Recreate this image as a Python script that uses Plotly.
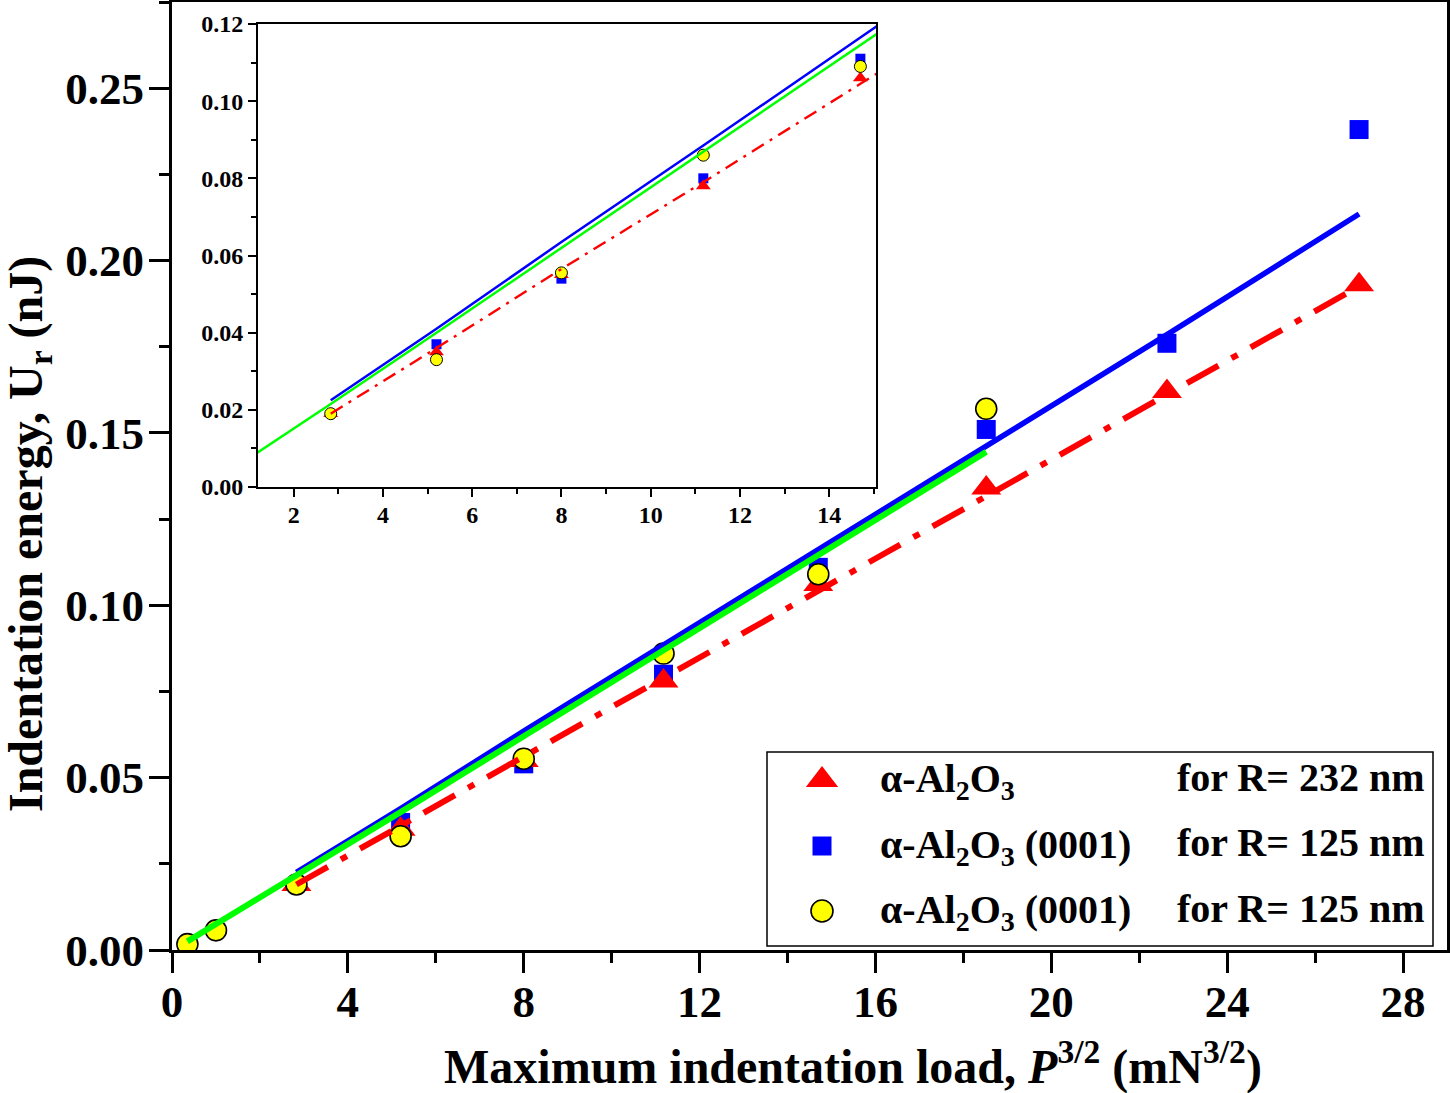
import plotly.graph_objects as go

# ---------------- data ----------------
# x values are P^{3/2} (mN^{3/2}), y values are indentation energy U_r (nJ)
x_tri = [2.83, 5.20, 8.00, 11.18, 14.70, 18.52, 22.63, 27.00]
y_tri = [0.019, 0.035, 0.055, 0.078, 0.106, 0.134, 0.162, 0.193]

x_sq = [5.20, 8.00, 11.18, 14.70, 18.52, 22.63, 27.00]
y_sq = [0.037, 0.054, 0.080, 0.111, 0.151, 0.176, 0.238]

x_circ = [0.35, 1.00, 2.83, 5.20, 8.00, 11.18, 14.70, 18.52]
y_circ = [0.0017, 0.0057, 0.019, 0.033, 0.0555, 0.086, 0.109, 0.157]

fit_red_x = [2.83, 5.20, 8.00, 11.18, 14.70, 18.52, 22.63, 27.00]
fit_red_y = [0.019, 0.036, 0.0565, 0.079, 0.1045, 0.132, 0.1615, 0.1925]

fit_blue_x = [2.83, 5.20, 8.00, 11.18, 14.70, 18.52, 22.63, 27.00]
fit_blue_y = [0.0225, 0.041, 0.0635, 0.0885, 0.1165, 0.1465, 0.1785, 0.2135]

fit_green_x = [0.35, 1.00, 2.83, 5.20, 8.00, 11.18, 14.70, 18.52]
fit_green_y = [0.0025, 0.0075, 0.0215, 0.040, 0.062, 0.087, 0.1145, 0.1445]

legend_names = ["α-Al<sub>2</sub>O<sub>3</sub>",
                "α-Al<sub>2</sub>O<sub>3</sub> (0001)",
                "α-Al<sub>2</sub>O<sub>3</sub> (0001)"]
legend_radius = ["for R= 232 nm", "for R= 125 nm", "for R= 125 nm"]

main_xticks = [0, 4, 8, 12, 16, 20, 24, 28]
inset_xticks = [2, 4, 6, 8, 10, 12, 14]

# ---------------- styling ----------------
FONT = "Liberation Serif"
RED, BLUE, GREEN, YELLOW = "#ff0000", "#0000ff", "#00ff00", "#ffff00"

W, H = 1450, 1093
L, R, T, B = 172, 3, 2, 143
PW, PH = W - L - R, H - T - B


def px(xp):
    return (xp - L) / PW


def py(yp):
    return (H - B - yp) / PH


fig = go.Figure()


def add_series(xa, ya, big):
    # markers first (lines are drawn on top of them in the reference)
    fig.add_trace(go.Scatter(x=x_sq, y=y_sq, mode="markers", xaxis=xa, yaxis=ya,
                             marker=dict(symbol="square", size=19 if big else 10, color=BLUE,
                                         line=dict(width=0)), showlegend=False))
    fig.add_trace(go.Scatter(x=x_tri, y=y_tri, mode="markers", xaxis=xa, yaxis=ya,
                             marker=dict(symbol="triangle-up", size=26 if big else 13, color=RED,
                                         line=dict(width=0)), showlegend=False))
    fig.add_trace(go.Scatter(x=x_circ, y=y_circ, mode="markers", xaxis=xa, yaxis=ya,
                             marker=dict(symbol="circle", size=21 if big else 12, color=YELLOW,
                                         line=dict(width=1.6 if big else 1.0, color="black")),
                             showlegend=False))
    fig.add_trace(go.Scatter(x=fit_red_x, y=fit_red_y, mode="lines", xaxis=xa, yaxis=ya,
                             line=dict(color=RED, width=6 if big else 2.4,
                                       dash="36px,15px,7px,15px" if big else "14px,7px,3px,7px"),
                             showlegend=False))
    fig.add_trace(go.Scatter(x=fit_blue_x, y=fit_blue_y, mode="lines", xaxis=xa, yaxis=ya,
                             line=dict(color=BLUE, width=5.5 if big else 2.5), showlegend=False))
    fig.add_trace(go.Scatter(x=fit_green_x, y=fit_green_y, mode="lines", xaxis=xa, yaxis=ya,
                             line=dict(color=GREEN, width=6 if big else 2.5), showlegend=False))


add_series("x", "y", True)
add_series("x2", "y2", False)

# legend symbols on a hidden helper subplot (layout only)
fig.add_trace(go.Scatter(x=[px(822)], y=[py(780)], mode="markers", xaxis="x3", yaxis="y3",
                         marker=dict(symbol="triangle-up", size=28, color=RED), showlegend=False))
fig.add_trace(go.Scatter(x=[px(822)], y=[py(846)], mode="markers", xaxis="x3", yaxis="y3",
                         marker=dict(symbol="square", size=19, color=BLUE), showlegend=False))
fig.add_trace(go.Scatter(x=[px(822)], y=[py(911)], mode="markers", xaxis="x3", yaxis="y3",
                         marker=dict(symbol="circle", size=22, color=YELLOW,
                                     line=dict(width=1.6, color="black")), showlegend=False))

tick_font_main = dict(family=FONT, size=45, color="black", weight="bold")
tick_font_inset = dict(family=FONT, size=24, color="black", weight="bold")

main_axis_common = dict(showline=True, linewidth=3, linecolor="black", mirror=True,
                        ticks="outside", ticklen=20, tickwidth=3, tickcolor="black",
                        showgrid=False, zeroline=False, tickfont=tick_font_main,
                        automargin=False)

fig.update_layout(
    width=W, height=H,
    margin=dict(l=L, r=R, t=T, b=B, pad=0, autoexpand=False),
    paper_bgcolor="white", plot_bgcolor="rgba(0,0,0,0)",
    showlegend=False,
    xaxis=dict(domain=[0, 1], range=[0, 29], anchor="y",
               tickvals=main_xticks, ticklabelstandoff=-10,
               minor=dict(dtick=2, tick0=0, ticks="outside", ticklen=10, tickwidth=3,
                          tickcolor="black"),
               **main_axis_common),
    yaxis=dict(domain=[0, 1], range=[0, 0.275], anchor="x",
               dtick=0.05, tick0=0, tickformat=".2f", ticklabelstandoff=-4,
               minor=dict(dtick=0.025, tick0=0, ticks="outside", ticklen=10, tickwidth=3,
                          tickcolor="black"),
               **main_axis_common),
    xaxis2=dict(domain=[px(258), px(876)], range=[1.2, 15.05], anchor="y2",
                tickvals=inset_xticks, ticklabelstandoff=-3,
                showline=True, linewidth=2, linecolor="black", mirror=True,
                ticks="outside", ticklen=8, tickwidth=2, tickcolor="black",
                minor=dict(dtick=1, tick0=0, ticks="outside", ticklen=5, tickwidth=2,
                           tickcolor="black"),
                showgrid=False, zeroline=False, tickfont=tick_font_inset, automargin=False),
    yaxis2=dict(domain=[py(487), py(24)], range=[0, 0.12], anchor="x2",
                dtick=0.02, tick0=0, tickformat=".2f",
                showline=True, linewidth=2, linecolor="black", mirror=True,
                ticks="outside", ticklen=8, tickwidth=2, tickcolor="black",
                minor=dict(dtick=0.01, tick0=0, ticks="outside", ticklen=5, tickwidth=2,
                           tickcolor="black"),
                showgrid=False, zeroline=False, tickfont=tick_font_inset, automargin=False),
    xaxis3=dict(domain=[0, 1], range=[0, 1], anchor="y3", visible=False, fixedrange=True,
                automargin=False),
    yaxis3=dict(domain=[0, 1], range=[0, 1], anchor="x3", visible=False, fixedrange=True,
                automargin=False),
)

# legend frame
fig.add_shape(type="rect", xref="paper", yref="paper",
              x0=px(767), x1=px(1433), y0=py(946), y1=py(752),
              line=dict(color="black", width=1.5), fillcolor="rgba(0,0,0,0)", layer="above")

leg_font = dict(family=FONT, size=40, color="black", weight="bold")
rows = [781, 847, 912]
for name, rad, yr in zip(legend_names, legend_radius, rows):
    fig.add_annotation(x=px(878), y=py(yr), xref="paper", yref="paper",
                       text=name, showarrow=False, xanchor="left", yanchor="middle",
                       yshift=0, font=leg_font)
    fig.add_annotation(x=px(1427), y=py(yr), xref="paper", yref="paper",
                       text=rad, showarrow=False, xanchor="right", yanchor="middle",
                       yshift=4, font=leg_font)

xtitle_font = dict(family=FONT, size=48, color="black", weight="bold")
ytitle_font = dict(family=FONT, size=48, color="black", weight="bold")
fig.add_annotation(x=px(853), y=py(1063), xref="paper", yref="paper",
                   text="Maximum indentation load, <i>P</i><sup>3/2</sup> (mN<sup>3/2</sup>)",
                   showarrow=False, xanchor="center", yanchor="middle", font=xtitle_font)
fig.add_annotation(x=px(29), y=py(534), xref="paper", yref="paper",
                   text="Indentation energy, U<sub>r</sub> (nJ)", textangle=-90,
                   showarrow=False, xanchor="center", yanchor="middle", font=ytitle_font)

fig.write_html("out.html", config={"displayModeBar": False},
               post_script="document.body.style.margin='0px';document.body.style.overflow='hidden';")
